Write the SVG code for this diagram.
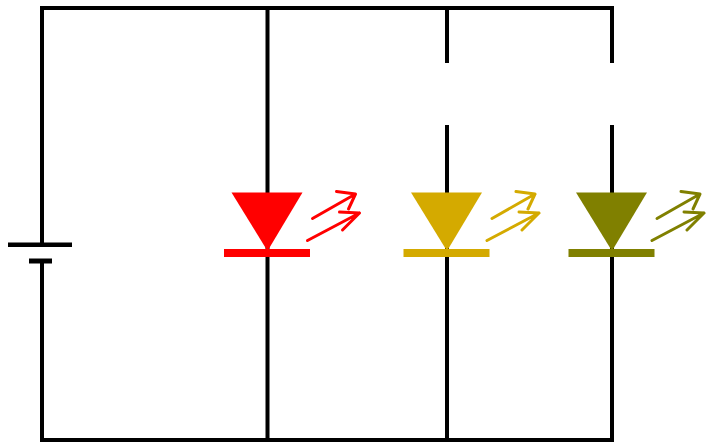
<svg xmlns="http://www.w3.org/2000/svg" width="706" height="445" viewBox="0 0 706 445">
<style>
.w{stroke:#000;stroke-width:4;fill:none;stroke-linecap:butt}
.led-bar{stroke-width:8;fill:none}
.ar{fill:none;stroke:currentColor;stroke-width:3;stroke-linecap:round;stroke-linejoin:round}
</style>
<defs>
<g id="emit" class="ar">
<path d="M45,218.5 L88,194 M69,191.5 L88,194 L81,209"/>
<path d="M40,240.5 L92,213 M72,212 L92,213 L75,230"/>
</g>
</defs>
<rect width="706" height="445" fill="#fff"/>
<g id="connectors">
<path class="w" d="M42,244 V8 H612 V63 M612,125 V440 H42 V261"/>
<path class="w" d="M267.5,8 V440"/>
<path class="w" d="M447,8 V63 M447,125 V440"/>
</g>
<g id="battery">
<line x1="8" y1="244.7" x2="72" y2="244.7" stroke="#000" stroke-width="4.5"/>
<line x1="29" y1="261" x2="52" y2="261" stroke="#000" stroke-width="5"/>
</g>
<g id="led-red" transform="translate(267.5,0)" style="color:#ff0000">
<polygon points="-36,192.5 35,192.5 0,251" fill="#ff0000"/>
<line class="led-bar" x1="-43.5" y1="253" x2="42.5" y2="253" stroke="#ff0000"/>
<use href="#emit"/>
</g>
<g id="led-yellow" transform="translate(447,0)" style="color:#d4aa00">
<polygon points="-36,192.5 35,192.5 0,251" fill="#d4aa00"/>
<line class="led-bar" x1="-43.5" y1="253" x2="42.5" y2="253" stroke="#d4aa00"/>
<use href="#emit"/>
</g>
<g id="led-olive" transform="translate(612,0)" style="color:#808000">
<polygon points="-36,192.5 35,192.5 0,251" fill="#808000"/>
<line class="led-bar" x1="-43.5" y1="253" x2="42.5" y2="253" stroke="#808000"/>
<use href="#emit"/>
</g>
</svg>
